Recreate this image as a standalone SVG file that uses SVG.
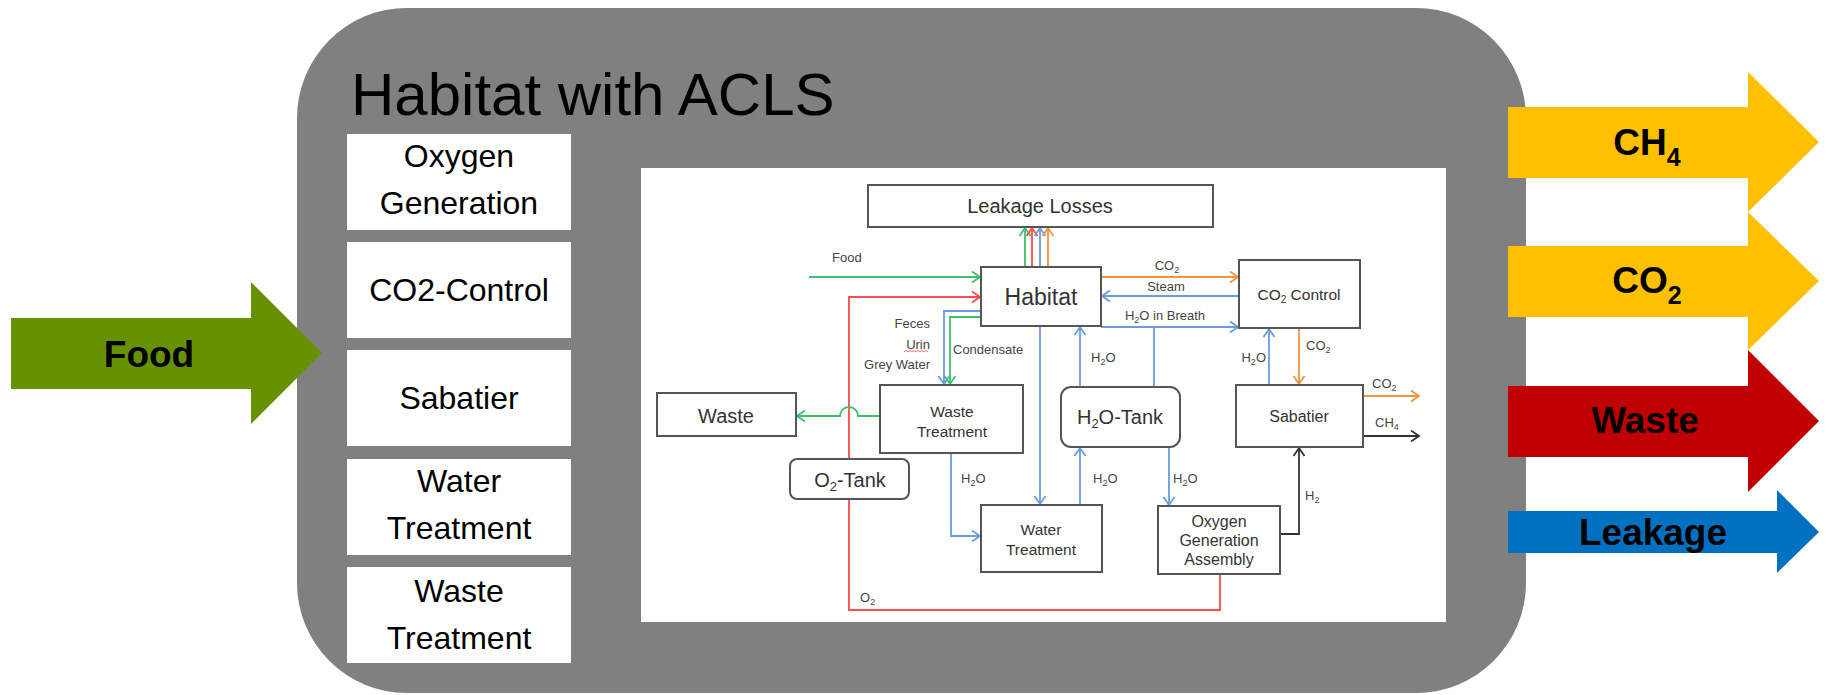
<svg xmlns="http://www.w3.org/2000/svg" width="1832" height="695" viewBox="0 0 1832 695">
<style>
.lb{fill:#fff}
.lt{font-family:"Liberation Sans",Arial,sans-serif;font-size:32px;fill:#000;text-anchor:middle}
.at{font-family:"Liberation Sans",Arial,sans-serif;font-weight:bold;font-size:37px;fill:#000;text-anchor:middle}
.bx{fill:#fff;stroke:#555;stroke-width:2}
.nt{font-family:"Liberation Sans",Arial,sans-serif;fill:#333;text-anchor:middle}
.sl{font-family:"Liberation Sans",Arial,sans-serif;font-size:13px;fill:#444}
.ln{fill:none;stroke-width:1.8}
.g{stroke:#3fc06a}.r{stroke:#ff4b4b}.b{stroke:#6b9be0}.o{stroke:#f59240}.k{stroke:#333}
</style>
<defs>
<marker id="ag" markerUnits="userSpaceOnUse" markerWidth="14" markerHeight="14" refX="10" refY="7" orient="auto"><path d="M2,1.5 L10,7 L2,12.5" fill="none" stroke="#3fc06a" stroke-width="1.8"/></marker>
<marker id="ar" markerUnits="userSpaceOnUse" markerWidth="14" markerHeight="14" refX="10" refY="7" orient="auto"><path d="M2,1.5 L10,7 L2,12.5" fill="none" stroke="#ff4b4b" stroke-width="1.8"/></marker>
<marker id="ab" markerUnits="userSpaceOnUse" markerWidth="14" markerHeight="14" refX="10" refY="7" orient="auto"><path d="M2,1.5 L10,7 L2,12.5" fill="none" stroke="#6b9be0" stroke-width="1.8"/></marker>
<marker id="ao" markerUnits="userSpaceOnUse" markerWidth="14" markerHeight="14" refX="10" refY="7" orient="auto"><path d="M2,1.5 L10,7 L2,12.5" fill="none" stroke="#f59240" stroke-width="1.8"/></marker>
<marker id="ak" markerUnits="userSpaceOnUse" markerWidth="14" markerHeight="14" refX="10" refY="7" orient="auto"><path d="M2,1.5 L10,7 L2,12.5" fill="none" stroke="#333" stroke-width="1.8"/></marker>
</defs>
<rect width="1832" height="695" fill="#fff"/>
<g id="habitat-acls">
<rect x="297" y="8" width="1229" height="685" rx="110" ry="110" fill="#808080"/>
<text x="351" y="115" font-family="Liberation Sans, Arial, sans-serif" font-size="60" fill="#000">Habitat with ACLS</text>
</g>
<g id="box-oxygen-generation"><rect class="lb" x="347" y="134" width="224" height="96"/><text class="lt" x="459" y="167">Oxygen</text><text class="lt" x="459" y="214">Generation</text></g>
<g id="box-co2-control"><rect class="lb" x="347" y="242" width="224" height="96"/><text class="lt" x="459" y="301">CO2-Control</text></g>
<g id="box-sabatier"><rect class="lb" x="347" y="350" width="224" height="96"/><text class="lt" x="459" y="409">Sabatier</text></g>
<g id="box-water-treatment"><rect class="lb" x="347" y="459" width="224" height="96"/><text class="lt" x="459" y="492">Water</text><text class="lt" x="459" y="539">Treatment</text></g>
<g id="box-waste-treatment"><rect class="lb" x="347" y="567" width="224" height="96"/><text class="lt" x="459" y="602">Waste</text><text class="lt" x="459" y="649">Treatment</text></g>
<g id="arrow-food"><polygon points="11,318 251,318 251,282 322,353 251,424 251,389 11,389" fill="#669100"/><text class="at" x="149" y="367">Food</text></g>
<g id="arrow-ch4"><polygon points="1508,107 1748,107 1748,72 1819,142 1748,212 1748,178 1508,178" fill="#ffc000"/><text class="at" x="1647" y="155">CH<tspan font-size="25" dy="11">4</tspan></text></g>
<g id="arrow-co2"><polygon points="1508,246 1748,246 1748,212 1819,281 1748,350 1748,317 1508,317" fill="#ffc000"/><text class="at" x="1647" y="293">CO<tspan font-size="25" dy="11">2</tspan></text></g>
<g id="arrow-waste"><polygon points="1508,386 1748,386 1748,350 1819,421 1748,492 1748,457 1508,457" fill="#c00000"/><text class="at" x="1645" y="433">Waste</text></g>
<g id="arrow-leakage"><polygon points="1508,511 1777,511 1777,490 1819,532 1777,573 1777,553 1508,553" fill="#0070c0"/><text class="at" x="1653" y="545">Leakage</text></g>
<g id="panel"><rect x="641" y="168" width="805" height="454" fill="#fff"/></g>
<g id="connectors">
<path class="ln g" d="M809,277 H980" marker-end="url(#ag)"/>
<path class="ln g" d="M1025,267 V228" marker-end="url(#ag)"/>
<path class="ln r" d="M1032,267 V228" marker-end="url(#ar)"/>
<path class="ln b" d="M1040,267 V228" marker-end="url(#ab)"/>
<path class="ln o" d="M1048,267 V228" marker-end="url(#ao)"/>
<path class="ln r" d="M1220,575 V610 H849 V297 H980" marker-end="url(#ar)"/>
<path class="ln b" d="M981,311 H944 V384" marker-end="url(#ab)"/>
<path class="ln g" d="M981,317 H950 V384" marker-end="url(#ag)"/>
<path class="ln b" d="M1040,326 V504" marker-end="url(#ab)"/>
<path class="ln o" d="M1101,277 H1238" marker-end="url(#ao)"/>
<path class="ln b" d="M1239,296 H1102" marker-end="url(#ab)"/>
<path class="ln b" d="M1101,327 H1238" marker-end="url(#ab)"/>
<path class="ln b" d="M1154,387 V327"/>
<path class="ln b" d="M1080,387 V327" marker-end="url(#ab)"/>
<path class="ln b" d="M1269,385 V329" marker-end="url(#ab)"/>
<path class="ln o" d="M1299,328 V384" marker-end="url(#ao)"/>
<path class="ln o" d="M1363,396 H1419" marker-end="url(#ao)"/>
<path class="ln k" d="M1363,436 H1419" marker-end="url(#ak)"/>
<path class="ln k" d="M1280,534 H1299 V448" marker-end="url(#ak)"/>
<path class="ln b" d="M1169,447 V505" marker-end="url(#ab)"/>
<path class="ln b" d="M1080,505 V448" marker-end="url(#ab)"/>
<path class="ln b" d="M951,453 V536 H980" marker-end="url(#ab)"/>
<path class="ln g" d="M880,416 H858 A9,9 0 0 0 840,416 H797" marker-end="url(#ag)"/>
<path d="M904,352 l2,-1.5 l2,1.5 l2,-1.5 l2,1.5 l2,-1.5 l2,1.5 l2,-1.5 l2,1.5 l2,-1.5 l2,1.5 l2,-1.5 l2,1.5" fill="none" stroke="#ff4b4b" stroke-width="0.8"/>
<text class="sl" x="832" y="262" font-size="15">Food</text>
<text class="sl" x="1167" y="270" text-anchor="middle">CO<tspan font-size="9" dy="3">2</tspan></text>
<text class="sl" x="1166" y="291" text-anchor="middle" font-size="14">Steam</text>
<text class="sl" x="1165" y="320" text-anchor="middle" font-size="14">H<tspan font-size="9" dy="3">2</tspan><tspan dy="-3">O in Breath</tspan></text>
<text class="sl" x="930" y="328" text-anchor="end" font-size="14">Feces</text>
<text class="sl" x="930" y="349" text-anchor="end" font-size="14">Urin</text>
<text class="sl" x="930" y="369" text-anchor="end" font-size="14">Grey Water</text>
<text class="sl" x="953" y="354" font-size="14.5">Condensate</text>
<text class="sl" x="1091" y="362">H<tspan font-size="9" dy="3">2</tspan><tspan dy="-3">O</tspan></text>
<text class="sl" x="1266" y="362" text-anchor="end">H<tspan font-size="9" dy="3">2</tspan><tspan dy="-3">O</tspan></text>
<text class="sl" x="1306" y="350">CO<tspan font-size="9" dy="3">2</tspan></text>
<text class="sl" x="1372" y="388">CO<tspan font-size="9" dy="3">2</tspan></text>
<text class="sl" x="1375" y="427">CH<tspan font-size="9" dy="3">4</tspan></text>
<text class="sl" x="1305" y="500">H<tspan font-size="9" dy="3">2</tspan></text>
<text class="sl" x="1173" y="483">H<tspan font-size="9" dy="3">2</tspan><tspan dy="-3">O</tspan></text>
<text class="sl" x="1093" y="483">H<tspan font-size="9" dy="3">2</tspan><tspan dy="-3">O</tspan></text>
<text class="sl" x="961" y="483">H<tspan font-size="9" dy="3">2</tspan><tspan dy="-3">O</tspan></text>
<text class="sl" x="860" y="602">O<tspan font-size="9" dy="3">2</tspan></text>
</g>
<g id="node-leakage-losses"><rect class="bx" x="868" y="185" width="345" height="42"/><text class="nt" x="1040" y="213" font-size="20">Leakage Losses</text></g>
<g id="node-habitat"><rect class="bx" x="981" y="267" width="120" height="59"/><text class="nt" x="1041" y="305" font-size="23">Habitat</text></g>
<g id="node-co2-control"><rect class="bx" x="1239" y="260" width="121" height="68"/><text class="nt" x="1299" y="300" font-size="15.5">CO<tspan font-size="10" dy="3">2</tspan><tspan dy="-3"> Control</tspan></text></g>
<g id="node-waste"><rect class="bx" x="657" y="393" width="139" height="43"/><text class="nt" x="726" y="423" font-size="20">Waste</text></g>
<g id="node-waste-treatment"><rect class="bx" x="880" y="385" width="143" height="68"/><text class="nt" x="952" y="417" font-size="15.5">Waste</text><text class="nt" x="952" y="437" font-size="15.5">Treatment</text></g>
<g id="node-h2o-tank"><rect class="bx" x="1061" y="387" width="119" height="60" rx="10"/><text class="nt" x="1120" y="424" font-size="20">H<tspan font-size="13" dy="4">2</tspan><tspan dy="-4">O-Tank</tspan></text></g>
<g id="node-sabatier"><rect class="bx" x="1236" y="385" width="127" height="62"/><text class="nt" x="1299" y="422" font-size="16">Sabatier</text></g>
<g id="node-o2-tank"><rect class="bx" x="790" y="459" width="119" height="40" rx="7"/><text class="nt" x="850" y="487" font-size="20">O<tspan font-size="13" dy="4">2</tspan><tspan dy="-4">-Tank</tspan></text></g>
<g id="node-water-treatment"><rect class="bx" x="981" y="505" width="121" height="67"/><text class="nt" x="1041" y="535" font-size="15.5">Water</text><text class="nt" x="1041" y="555" font-size="15.5">Treatment</text></g>
<g id="node-oga"><rect class="bx" x="1158" y="506" width="122" height="68"/><text class="nt" x="1219" y="527" font-size="16">Oxygen</text><text class="nt" x="1219" y="546" font-size="16">Generation</text><text class="nt" x="1219" y="565" font-size="16">Assembly</text></g>
</svg>
